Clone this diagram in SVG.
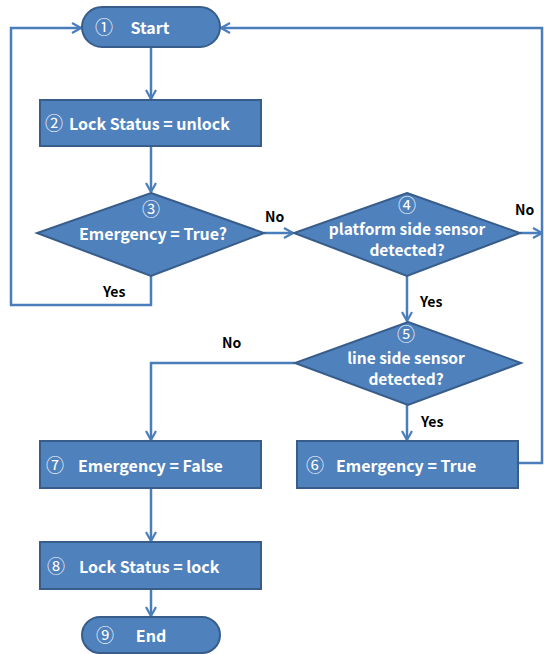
<svg xmlns="http://www.w3.org/2000/svg" width="544" height="654" viewBox="0 0 544 654">
<style>
.shape{fill:#4F81BD;stroke:#385D8A;stroke-width:2}
.t{fill:#fff;font-family:"Noto Sans CJK KR","Noto Sans",sans-serif;font-weight:bold;font-size:16px}
.d{fill:#fff;font-family:"Noto Sans CJK KR","Noto Sans",sans-serif;font-weight:bold;font-size:15.5px}
.n{fill:#fff;font-family:"Noto Sans CJK KR","DejaVu Sans",sans-serif;font-size:18px}
.lbl{fill:#000;font-family:"Noto Sans CJK KR","Noto Sans",sans-serif;font-weight:bold;font-size:14px}
.c{fill:none;stroke:#4A7EBB;stroke-width:2.5}
</style>
<defs>
<marker id="ah" viewBox="0 0 12 12" refX="11" refY="6" markerWidth="12" markerHeight="12" markerUnits="userSpaceOnUse" orient="auto">
<polyline points="2,1 11,6 2,11" fill="none" stroke="#4A7EBB" stroke-width="2.2"/>
</marker>
</defs>
<g id="connectors">
<path class="c" d="M151,47 V99" marker-end="url(#ah)"/>
<path class="c" d="M151,147 V192" marker-end="url(#ah)"/>
<path class="c" d="M151,276 V305 H11 V28 H81" marker-end="url(#ah)"/>
<path class="c" d="M264,233 H293" marker-end="url(#ah)"/>
<path class="c" d="M520,233 H542" marker-end="url(#ah)"/>
<path class="c" d="M518,463 H542 V28 H221" marker-end="url(#ah)"/>
<path class="c" d="M407,276 V321" marker-end="url(#ah)"/>
<path class="c" d="M295,363 H151 V440" marker-end="url(#ah)"/>
<path class="c" d="M407,405 V440" marker-end="url(#ah)"/>
<path class="c" d="M151,489 V541" marker-end="url(#ah)"/>
<path class="c" d="M151,590 V616" marker-end="url(#ah)"/>
<text class="lbl" x="103" y="297">Yes</text>
<text class="lbl" x="265" y="222">No</text>
<text class="lbl" x="515" y="215">No</text>
<text class="lbl" x="420" y="307">Yes</text>
<text class="lbl" x="222" y="348">No</text>
<text class="lbl" x="421" y="427">Yes</text>
</g>
<g id="n1">
<rect class="shape" x="82" y="7" width="138" height="40" rx="20"/>
<text class="n" x="104" y="34" text-anchor="middle">①</text>
<text class="t" x="150" y="34" text-anchor="middle">Start</text>
</g>
<g id="n2">
<rect class="shape" x="40" y="100" width="221" height="46"/>
<text class="n" x="54" y="130" text-anchor="middle">②</text>
<text class="t" x="69" y="130">Lock Status = unlock</text>
</g>
<g id="n3">
<polygon class="shape" points="151,193 264,233 151,276 37,233"/>
<text class="n" x="151" y="216" text-anchor="middle">③</text>
<text class="t" x="153" y="240" text-anchor="middle">Emergency = True?</text>
</g>
<g id="n4">
<polygon class="shape" points="407,193 520,233 407,276 294,233"/>
<text class="n" x="407" y="212" text-anchor="middle">④</text>
<text class="d" x="407" y="235" text-anchor="middle">platform side sensor</text>
<text class="d" x="407" y="256" text-anchor="middle">detected?</text>
</g>
<g id="n5">
<polygon class="shape" points="408,322 521,363 408,405 295,363"/>
<text class="n" x="406" y="341" text-anchor="middle">⑤</text>
<text class="d" x="406" y="364" text-anchor="middle">line side sensor</text>
<text class="d" x="406" y="385" text-anchor="middle">detected?</text>
</g>
<g id="n6">
<rect class="shape" x="297" y="441" width="221" height="47"/>
<text class="n" x="315" y="472" text-anchor="middle">⑥</text>
<text class="t" x="336" y="472">Emergency = True</text>
</g>
<g id="n7">
<rect class="shape" x="40" y="441" width="221" height="47"/>
<text class="n" x="55" y="472" text-anchor="middle">⑦</text>
<text class="t" x="78" y="472">Emergency = False</text>
</g>
<g id="n8">
<rect class="shape" x="40" y="542" width="221" height="47"/>
<text class="n" x="56" y="573" text-anchor="middle">⑧</text>
<text class="t" x="79" y="573">Lock Status = lock</text>
</g>
<g id="n9">
<rect class="shape" x="82" y="617" width="138" height="36" rx="18"/>
<text class="n" x="105" y="642" text-anchor="middle">⑨</text>
<text class="t" x="151" y="642" text-anchor="middle">End</text>
</g>
</svg>
